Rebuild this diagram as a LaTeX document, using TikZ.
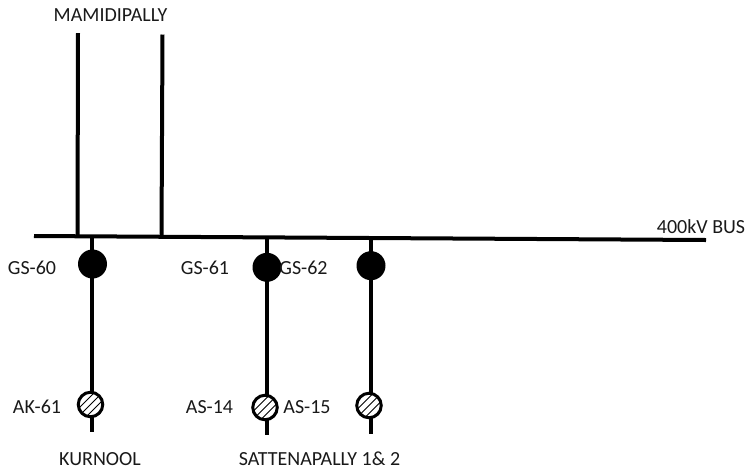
\documentclass[tikz,border=0pt]{standalone}
\usepackage{fontspec}
\setmainfont{Carlito}
\usetikzlibrary{backgrounds}
\definecolor{ink}{gray}{0.1}
\tikzset{
  x=1pt,y=-1pt,
  wire/.style={line width=4pt,draw=black},
  label text/.style={inner sep=0pt,text=ink,font=\fontsize{20pt}{22pt}\selectfont,text height=12.5pt,text depth=0pt},
  breaker/.style={circle,fill=black,draw=none,inner sep=0pt,minimum size=29pt},
  isolator/.style={circle,fill=white,draw=black,line width=3pt,inner sep=0pt,minimum size=24.5pt,
    path picture={
      \foreach \d in {-16,-8,0,8,16}
        \draw[black,line width=0.8pt]
          ([xshift=\d pt-16pt,yshift=-16pt]path picture bounding box.center) --
          ([xshift=\d pt+16pt,yshift=16pt]path picture bounding box.center);
    }},
}
\begin{document}
\begin{tikzpicture}
\useasboundingbox (0,0) rectangle (750,475);
% breakers and isolators
\node[breaker] (g60) at (92.5,264) {};
\node[breaker] (g61) at (267,267.3) {};
\node[breaker] (g62) at (371,265.7) {};
\node[isolator] (a61) at (90.5,404.5) {};
\node[isolator] (a14) at (265,407.5) {};
\node[isolator] (a15) at (369,405.5) {};
% bus and free ends
\coordinate (busL) at (34,236);
\coordinate (busR) at (706,240);
\coordinate (m1top) at (78,33);
\coordinate (m2top) at (162.5,34.5);
\coordinate (m1) at (77.5,236.3);
\coordinate (m2) at (161.5,236.8);
\coordinate (j60) at (92,236.5);
\coordinate (j61) at (266.7,237.6);
\coordinate (j62) at (371,238.2);
\coordinate (e60) at (92,431.5);
\coordinate (e61) at (266.7,435);
\coordinate (e62) at (371,433.7);
\begin{pgfonlayer}{background}
\draw[wire] (busL) -- (busR);
\draw[wire] (m1top) -- (m1);
\draw[wire] (m2top) -- (m2);
\draw[wire] (j60) -- (e60);
\draw[wire] (j61) -- (e61);
\draw[wire] (j62) -- (e62);
\end{pgfonlayer}
% labels
\node[label text] (lmam) at (110.5,15) {MAMIDIPALLY};
\node[label text] (lbus) at (701,227) {400kV BUS};
\node[label text] (lg60) at (32,268) {GS-60};
\node[label text] (lg61) at (205,268) {GS-61};
\node[label text] (lg62) at (303.5,268) {GS-62};
\node[label text] (la61) at (37,407) {AK-61};
\node[label text] (la14) at (209.5,407) {AS-14};
\node[label text] (la15) at (307,407) {AS-15};
\node[label text] (lkur) at (100,459) {KURNOOL};
\node[label text] (lsat) at (319.5,459) {SATTENAPALLY 1\& 2};
\end{tikzpicture}
\end{document}
